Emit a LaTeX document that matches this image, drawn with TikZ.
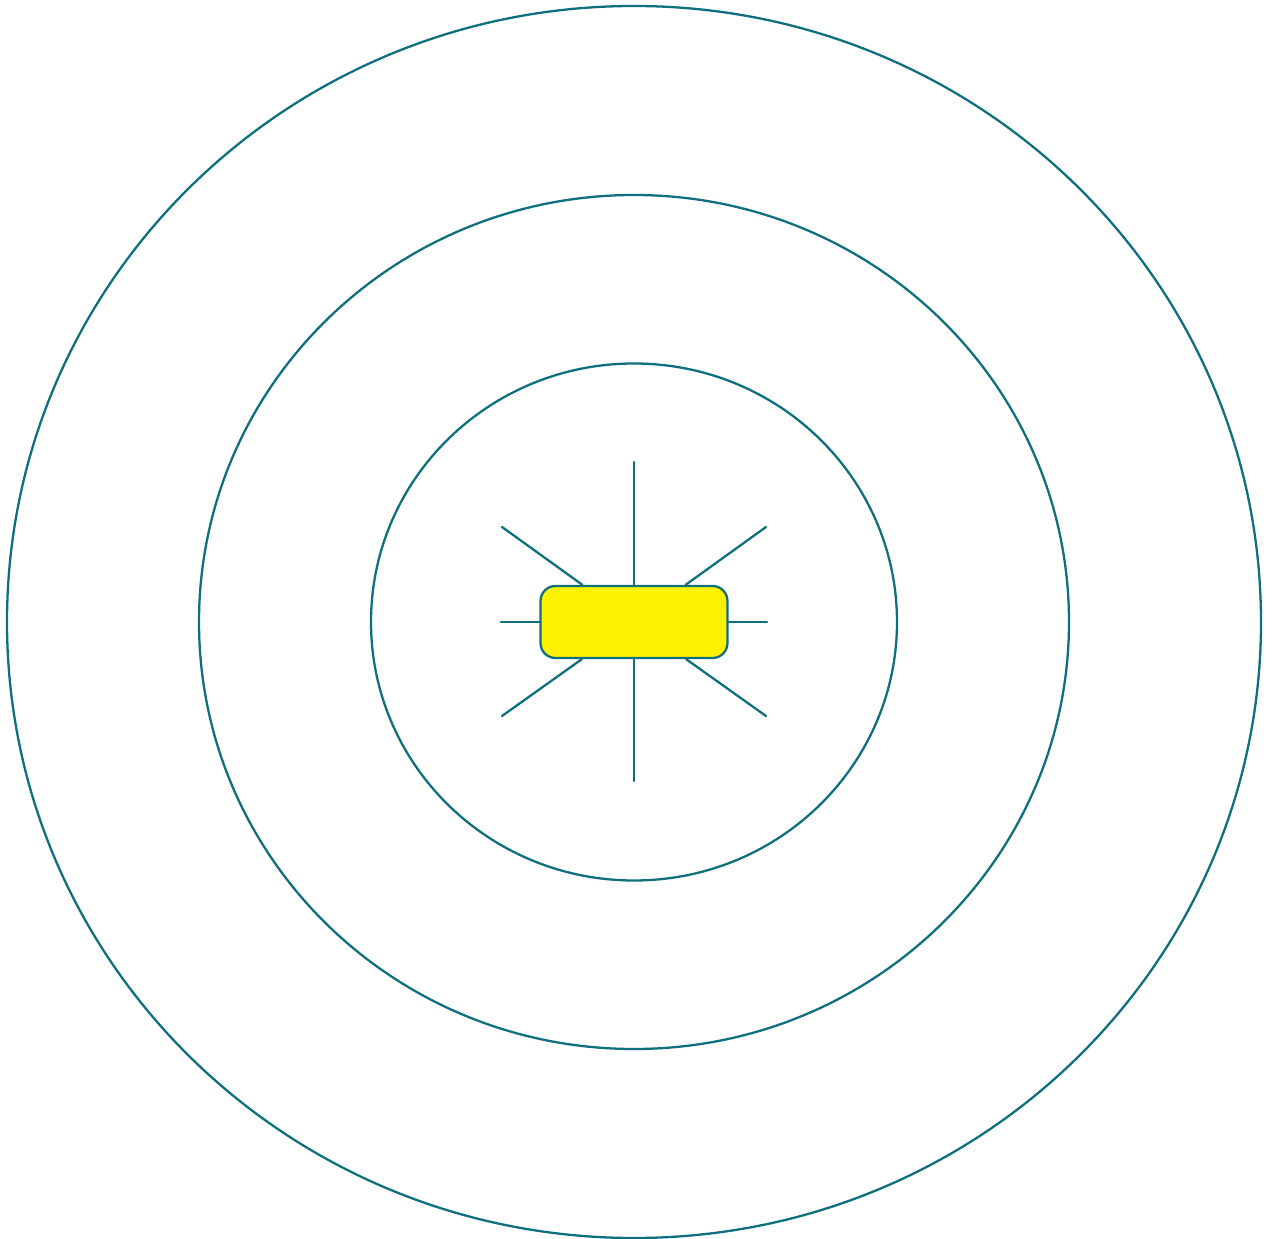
\documentclass[tikz,border=0pt]{standalone}
\usepackage{tikz}
\usetikzlibrary{calc}
\definecolor{ringteal}{HTML}{0E6F7E}
\definecolor{lampyellow}{HTML}{FFF200}

\begin{document}
\begin{tikzpicture}[x=0.02cm,y=-0.02cm,line width=1.3pt,
    ring/.style={draw=ringteal},
    ray/.style={draw=ringteal,line cap=round},
    lampbox/.style={draw=ringteal,fill=lampyellow,rounded corners=8.5pt,minimum width=3.74cm,minimum height=1.44cm,inner sep=0pt}]
  \useasboundingbox (0,0) rectangle (1272,1239);
  \coordinate (c) at (634,622);
  % rings
  \draw[ring] (c) ellipse [x radius=627,y radius=616];
  \draw[ring] (c) ellipse [x radius=435,y radius=427];
  \draw[ring] (c) ellipse [x radius=263,y radius=258.5];
  % lamp and rays
  \node[lampbox] (lamp) at (c) {};
  \coordinate (rN) at (634,462);
  \coordinate (rS) at (634,781);
  \coordinate (rW) at (501,622);
  \coordinate (rE) at (767,622);
  \coordinate (rNW) at (502,527);
  \coordinate (rNE) at (766,527);
  \coordinate (rSW) at (502,716);
  \coordinate (rSE) at (766,716);
  \foreach \r in {rN,rS,rW,rE,rNW,rNE,rSW,rSE}{
    \draw[ray] (lamp) -- (\r);
  }
\end{tikzpicture}
\end{document}
